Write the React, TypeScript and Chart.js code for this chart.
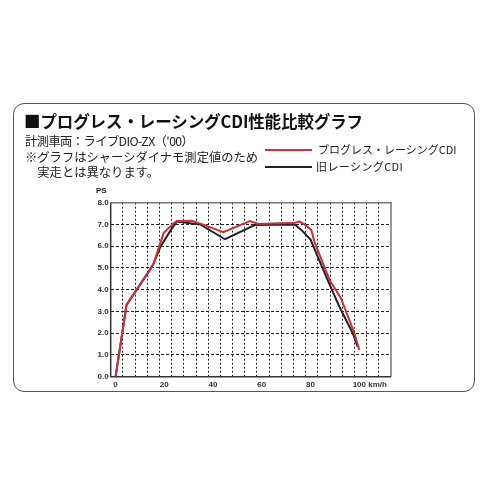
import React, { useEffect, useRef } from "react";
import { Chart, registerables } from "chart.js";

Chart.register(...registerables);

// km/h and PS values
const redSpeed = [0, 4.5, 14, 15.6, 19.7, 23.8, 25.2, 31.3, 36.5, 44.2, 55.1, 58.5, 73.5, 75.5, 77.5, 80.3, 81.6, 87.8, 92.5, 98, 100];
const redPower = [0, 3.3, 4.9, 5.2, 6.6, 7.05, 7.16, 7.17, 6.97, 6.64, 7.16, 7.02, 7.08, 7.13, 7.0, 6.75, 6.2, 4.45, 3.6, 2.0, 1.23];
const blackSpeed = [0, 4.5, 14, 15.6, 18.4, 23.1, 25.2, 30.6, 34.7, 44.9, 57.1, 73.5, 76.2, 80, 86.4, 91.8, 97.3, 99.3];
const blackPower = [0, 3.3, 4.9, 5.2, 5.98, 6.82, 7.13, 7.05, 7.0, 6.32, 6.97, 7.0, 6.75, 6.3, 4.6, 3.22, 2.0, 1.38];

const xLabelTicks = [0, 20, 40, 60, 80, 100, 107.5];
const xGridTicks = [3, 8, 13, 18, 23, 28, 33, 38, 43, 48, 53, 58, 63, 68, 73, 78, 83, 88, 93, 98, 103, 108];
const yTicks = [0, 1, 2, 3, 4, 5, 6, 7, 8];

const seriesNames = ["プログレス・レーシングCDI", "旧レーシングCDI"];
const titleText = "■プログレス・レーシングCDI性能比較グラフ";
const noteLines = ["計測車両：ライブDIO-ZX（'00）", "※グラフはシャーシダイナモ測定値のため", "　実走とは異なります。"];

const RED = "#c8323c";
const BLACK = "#222222";

const zip = (xs: number[], ys: number[]) => xs.map((x, i) => ({ x, y: ys[i] }));

const boxPlugin = {
  id: "boxPlugin",
  beforeDatasetsDraw(chart: any) {
    const { ctx, chartArea: a } = chart;
    ctx.save();
    ctx.lineWidth = 1.5;
    ctx.strokeStyle = "#777";
    ctx.beginPath();
    ctx.moveTo(a.left, a.top);
    ctx.lineTo(a.right, a.top);
    ctx.lineTo(a.right, a.bottom);
    ctx.stroke();
    ctx.strokeStyle = "#333";
    ctx.beginPath();
    ctx.moveTo(a.left, a.top);
    ctx.lineTo(a.left, a.bottom);
    ctx.lineTo(a.right, a.bottom);
    ctx.stroke();
    ctx.restore();
  },
};

export default function App() {
  const ref = useRef<HTMLCanvasElement | null>(null);

  useEffect(() => {
    if (!ref.current) return;
    const tickFont = { family: "'Liberation Sans', Arial, sans-serif", size: 8, weight: "bold" as const };
    const chart = new Chart(ref.current, {
      type: "line",
      data: {
        datasets: [
          {
            label: seriesNames[0],
            data: zip(redSpeed, redPower),
            borderColor: RED,
            borderWidth: 2,
            pointRadius: 0,
            tension: 0,
            fill: false,
          },
          {
            label: seriesNames[1],
            data: zip(blackSpeed, blackPower),
            borderColor: BLACK,
            borderWidth: 2,
            pointRadius: 0,
            tension: 0,
            fill: false,
          },
        ],
      },
      options: {
        animation: false,
        responsive: false,
        devicePixelRatio: 1,
        parsing: false,
        layout: { padding: { left: 0, top: 202.7, right: 96, bottom: 92.3 } },
        plugins: { legend: { display: false }, tooltip: { enabled: false }, title: { display: false } },
        scales: {
          x: {
            type: "linear",
            position: "bottom",
            min: -2,
            max: 113,
            grid: { display: false, drawTicks: false },
            border: { display: false },
            afterBuildTicks: (axis: any) => {
              axis.ticks = xLabelTicks.map((v) => ({ value: v }));
            },
            afterFit: (axis: any) => {
              axis.height = 18;
            },
            ticks: {
              autoSkip: false,
              maxRotation: 0,
              padding: 3,
              color: "#333",
              font: tickFont,
              callback: (v: any) => (v === 107.5 ? "km/h" : String(v)),
            },
          },
          xg: {
            type: "linear",
            position: "bottom",
            min: -2,
            max: 113,
            grid: { color: "#222", lineWidth: 1, drawTicks: false },
            border: { display: false, dash: [2, 2] },
            afterBuildTicks: (axis: any) => {
              axis.ticks = xGridTicks.map((v) => ({ value: v }));
            },
            afterFit: (axis: any) => {
              axis.height = 0;
            },
            ticks: { display: false },
          },
          y: {
            type: "linear",
            min: 0,
            max: 8,
            grid: { color: "#222", lineWidth: 1, drawTicks: false },
            border: { display: false, dash: [3, 2] },
            afterBuildTicks: (axis: any) => {
              axis.ticks = yTicks.map((v) => ({ value: v }));
            },
            afterFit: (axis: any) => {
              axis.width = 110.7;
            },
            ticks: {
              padding: 2,
              color: "#333",
              font: tickFont,
              callback: (v: any) => Number(v).toFixed(1),
            },
          },
        },
      },
      plugins: [boxPlugin],
    });
    return () => chart.destroy();
  }, []);

  const jp = "'Noto Sans CJK JP', 'Noto Sans', sans-serif";
  const abs = (extra: React.CSSProperties): React.CSSProperties => ({
    position: "absolute",
    whiteSpace: "nowrap",
    lineHeight: 1,
    fontFamily: jp,
    ...extra,
  });

  return (
    <div style={{ position: "absolute", left: 0, top: 0, width: 487, height: 487, background: "#fff", overflow: "hidden" }}>
      <div
        style={{
          position: "absolute",
          left: 12.7,
          top: 102.7,
          width: 462,
          height: 289.6,
          border: "1.5px solid #555",
          borderRadius: 11,
          boxSizing: "border-box",
        }}
      />
      <canvas ref={ref} width={487} height={487} style={{ position: "absolute", left: 0, top: 0 }} />
      <div style={abs({ left: 24, top: 112.5, fontSize: 16.5, fontWeight: 700, color: "#111", letterSpacing: -0.1 })}>{titleText}</div>
      <div style={abs({ left: 25, top: 134.8, fontSize: 12.3, color: "#222", letterSpacing: -0.6 })}>{noteLines[0]}</div>
      <div style={abs({ left: 25, top: 151.4, fontSize: 12.3, color: "#222" })}>{noteLines[1]}</div>
      <div style={abs({ left: 25, top: 165.8, fontSize: 12.3, color: "#222" })}>{noteLines[2]}</div>
      <div style={{ position: "absolute", left: 265, top: 149, width: 47, height: 2, background: RED }} />
      <div style={abs({ left: 318, top: 144, fontSize: 11, color: "#222" })}>{seriesNames[0]}</div>
      <div style={{ position: "absolute", left: 265, top: 166.3, width: 47, height: 2, background: BLACK }} />
      <div style={abs({ left: 316, top: 161, fontSize: 11, color: "#222", letterSpacing: 0.4 })}>{seriesNames[1]}</div>
      <div style={abs({ left: 96, top: 187, fontSize: 8, fontWeight: 700, color: "#222", fontFamily: "'Liberation Sans', Arial, sans-serif" })}>PS</div>
    </div>
  );
}
